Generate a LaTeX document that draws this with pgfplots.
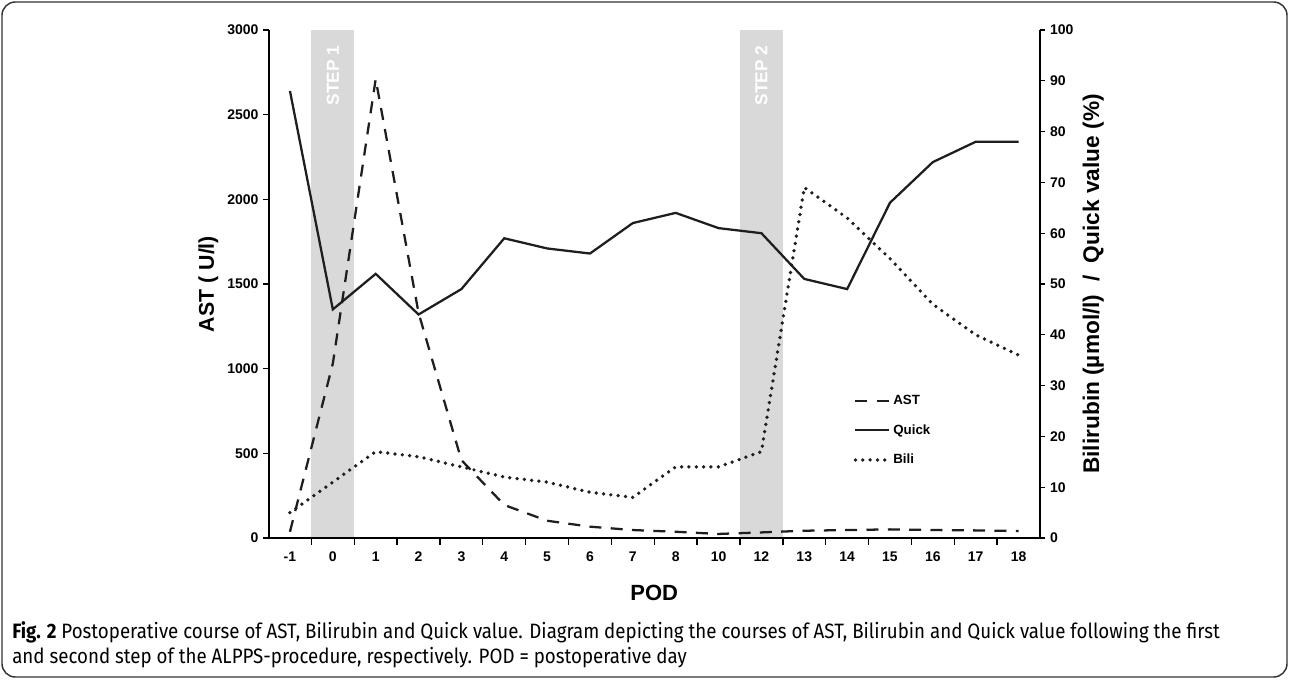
\documentclass[border=0pt]{standalone}
\usepackage{fontspec}
\setmainfont{Liberation Sans}
\newfontfamily\capfont[FakeStretch=0.9]{Fira Sans}
\usepackage{pgfplots}
\usepackage{pgfplotstable}
\pgfplotsset{compat=1.18}
\definecolor{band}{HTML}{D9D9D9}
\definecolor{ink}{HTML}{1E1E1E}

% POD categories are plotted at 0..17
\pgfplotstableread{
idx pod ast quick bili
0  -1   37 88  5
1   0 1030 45 11
2   1 2710 52 17
3   2 1330 44 16
4   3  460 49 14
5   4  195 59 12
6   5  102 57 11
7   6   67 56  9
8   7   47 62  8
9   8   37 64 14
10 10   24 61 14
11 12   33 60 17
12 13   43 51 69
13 14   47 49 63
14 15   51 66 55
15 16   47 74 46
16 17   45 78 40
17 18   41 78 36
}\datatable

\pgfplotsset{
  base/.style={at={(201.4pt,-403.5pt)}, anchor=south west,
    scale only axis, width=578.6pt, height=381pt,
    xmin=-0.5, xmax=17.5,
    tick align=outside, tick style={line width=1pt, black},
    major tick length=4pt, minor tick length=5pt,
    axis line style={-, line width=1.5pt, black},
    tick label style={font=\bfseries\fontsize{10.5}{12}\selectfont},
    /pgf/number format/assume math mode=true,
    /pgf/number format/1000 sep={}},
  aststyle/.style={ink, line width=1.7pt, dash pattern=on 9pt off 7pt},
}

\begin{document}
\begin{tikzpicture}
\begin{scope}[x=0.75pt, y=-0.75pt]
  \path (0,0) rectangle (1289,679);
  \draw[line width=1.1pt, black!80, rounded corners=10pt] (2,2) rectangle (1287,677);
  \node[anchor=west, align=left, inner sep=0pt,
        font=\capfont\fontsize{15.6}{18.4}\selectfont] at (12,645)
    {{\bfseries Fig. 2} Postoperative course of AST, Bilirubin and Quick value. Diagram depicting the courses of AST, Bilirubin and Quick value following the first\\
     and second step of the ALPPS-procedure, respectively. POD = postoperative day};
\end{scope}

\begin{axis}[base, axis on top,
  ymin=0, ymax=3000,
  axis x line*=bottom, axis y line*=left,
  xtick={0,...,17},
  xticklabels={-1,0,1,2,3,4,5,6,7,8,10,12,13,14,15,16,17,18},
  major x tick style={draw=none},
  minor xtick={0.5,1.5,...,16.5},
  xticklabel style={yshift=-3pt},
  ytick={0,500,...,3000},
  xlabel={POD}, ylabel={AST ( U/l)},
  every axis x label/.style={at={(axis description cs:0.5,-0.108)}, anchor=center,
    font=\bfseries\fontsize{16.5}{18}\selectfont},
  every axis y label/.style={at={(axis description cs:-0.078,0.5)}, rotate=90, anchor=center,
    font=\bfseries\fontsize{16}{18}\selectfont}]
  \fill[band] (axis cs:0.5,0) rectangle (axis cs:1.5,3000);
  \fill[band] (axis cs:10.5,0) rectangle (axis cs:11.5,3000);
  \node[rotate=90, anchor=east, text=white, inner sep=0pt,
        font=\bfseries\fontsize{13}{15}\selectfont] at (axis cs:1,2910) {STEP 1};
  \node[rotate=90, anchor=east, text=white, inner sep=0pt,
        font=\bfseries\fontsize{13}{15}\selectfont] at (axis cs:11,2910) {STEP 2};
  \addplot[aststyle] table[x=idx, y=ast] {\datatable};
\end{axis}

\begin{axis}[base,
  ymin=0, ymax=100,
  axis y line*=right, axis x line=none,
  ytick={0,10,...,100},
  ylabel={Bilirubin (µmol/l)\ \ /\ \ Quick value (\%)},
  every axis y label/.style={at={(axis description cs:1.069,0.5)}, rotate=90, anchor=center,
    font=\bfseries\fontsize{17}{19}\selectfont},
  legend style={at={(axis description cs:0.758,0.287)}, anchor=north west,
    draw=none, fill=none, inner sep=0pt, row sep=9.5pt,
    font=\bfseries\fontsize{10}{11.5}\selectfont, cells={anchor=west}},
  legend image code/.code={\draw[#1] (0pt,0pt) -- (25pt,0pt);}]
  \addlegendimage{aststyle}
  \addlegendentry{AST}
  \addplot[ink, line width=1.7pt] table[x=idx, y=quick] {\datatable};
  \addlegendentry{Quick}
  \addplot[ink, line width=2.8pt, line cap=round, dash pattern=on 0pt off 5.5pt]
    table[x=idx, y=bili] {\datatable};
  \addlegendentry{Bili}
\end{axis}
\end{tikzpicture}
\end{document}
